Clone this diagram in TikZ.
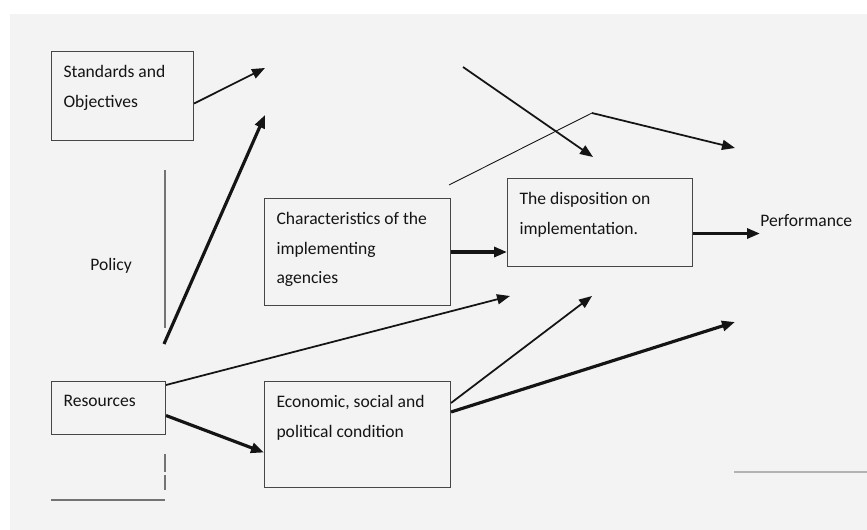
\documentclass[tikz,border=0pt]{standalone}
\usepackage{fontspec}
\setmainfont{Carlito}
\usepackage{tikz}
\usetikzlibrary{arrows.meta,positioning}
\definecolor{paper}{RGB}{243,243,243}
\definecolor{frame}{RGB}{70,70,70}
\definecolor{ink}{RGB}{20,20,20}
\tikzstyle{box}=[draw=frame,line width=0.6pt,anchor=north west,inner xsep=0.24cm,inner ysep=0.27cm,text=ink,font=\fontsize{10}{17}\selectfont]
\tikzstyle{label}=[anchor=west,inner sep=0pt,text=ink,font=\fontsize{10}{17}\selectfont]
\tikzstyle{edge} = [draw=ink,line width=1pt,-{Triangle[length=0.26cm,width=0.2cm]}]
\tikzstyle{bedge} = [draw=ink,line width=1.8pt,-{Triangle[length=0.26cm,width=0.2cm]}]
\tikzstyle{rule} = [draw=black!55,line width=0.6pt]
\newcommand{\boxtext}[3]{\parbox[c][#2][t]{#1}{#3}}

\begin{document}
\begin{tikzpicture}[x=0.02cm,y=-0.02cm]

      \useasboundingbox (0,0) rectangle (867,530);
      \fill[white] (0,0) rectangle (867,530);
      \fill[paper] (10,14) rectangle (867,530);

      \node[box] (std) at (51,51) {\boxtext{2.36cm}{1.24cm}{Standards and\\Objectives}};
      \node[box] (char) at (264,198) {\boxtext{3.24cm}{1.6cm}{Characteristics of the\\implementing\\agencies}};
      \node[box] (disp) at (507,178) {\boxtext{3.22cm}{1.22cm}{The disposition on\\implementation.}};
      \node[box] (res) at (51,381) {\boxtext{1.8cm}{0.52cm}{Resources}};
      \node[box] (econ) at (264,381) {\boxtext{3.24cm}{1.58cm}{Economic, social and\\political condition}};

      \node[label] (policy) at (90,266) {Policy};
      \node[label] (perf) at (760,221) {Performance};

      \coordinate (p1) at (265,68);
      \coordinate (p2) at (265,115);
      \coordinate (q1) at (164,344);
      \coordinate (p3) at (510,296);
      \coordinate (p4) at (592,296);
      \coordinate (p5) at (735,322);
      \coordinate (p6) at (463,67);
      \coordinate (p7) at (593,157);
      \coordinate (q2) at (449,185);
      \coordinate (c1) at (592,113);
      \coordinate (p8) at (735,148);

      % policy side lines
      \coordinate (l1) at (165,170);
      \coordinate (l2) at (165,328);
      \coordinate (l3) at (165,454);
      \coordinate (l4) at (165,490);
      \coordinate (l5) at (51,500);
      \coordinate (l6) at (165,500);
      \coordinate (l7) at (734,472);
      \coordinate (l8) at (867,472);
      \path[rule] (l1) -- (l2);
      \path[rule,dash pattern=on 0.36cm off 0.06cm] (l3) -- (l4);
      \path[rule] (l5) -- (l6);
      \path[draw=black!30,line width=1.2pt] (l7) -- (l8);

      \path[edge] ([yshift=-0.15cm]std.east) -- (p1);
      \path[bedge] (q1) -- (p2);
      \path[edge] ([yshift=-0.08cm]res.north east) -- (p3);
      \path[bedge] ([yshift=-0.15cm]res.east) -- ([yshift=-0.36cm]econ.west);
      \path[edge] ([yshift=-0.44cm]econ.north east) -- (p4);
      \path[bedge] ([yshift=-0.62cm]econ.north east) -- (p5);
      \path[bedge] (char.east) -- (char.east -| disp.west);
      \path[bedge] ([yshift=-0.22cm]disp.east) -- ([yshift=-0.22cm]disp.east -| perf.west);
      \path[edge] (p6) -- (p7);
      \path[draw=ink,line width=0.5pt] (q2) -- (c1);
      \path[edge] (c1) -- (p8);

\end{tikzpicture}
\end{document}
